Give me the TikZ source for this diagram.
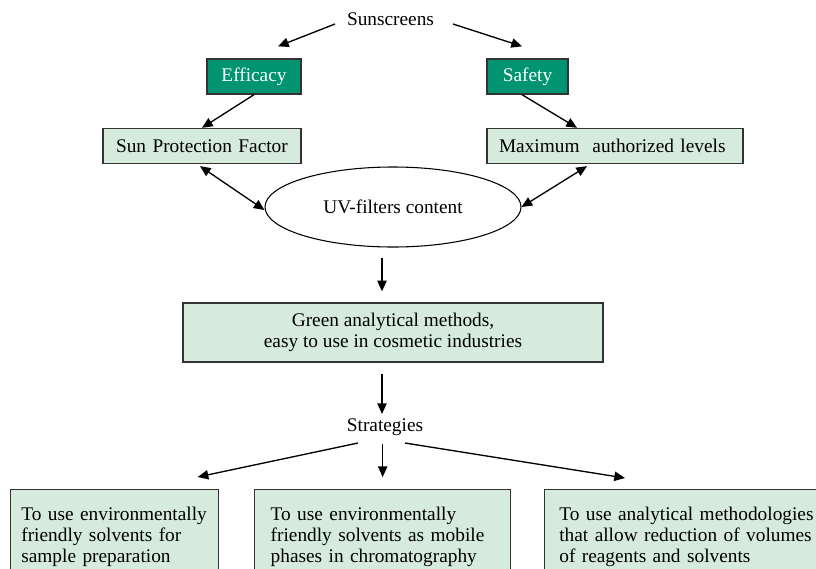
\documentclass[tikz,border=0pt]{standalone}
\usepackage{fontspec}
\setmainfont{Liberation Serif}
\usepackage{xcolor}
\usepackage{tikz}
\usetikzlibrary{arrows.meta,shapes.geometric}

\definecolor{darkgreen}{RGB}{0,148,112}
\definecolor{palegreen}{RGB}{214,235,222}

\begin{document}
\begin{tikzpicture}[
  x=0.75pt, y=-0.75pt,
  every node/.style={font=\fontsize{14.5}{15.75}\selectfont},
  label/.style={inner sep=2pt},
  keybox/.style={draw=black!80, line width=1pt, fill=darkgreen, text=white, align=center, inner sep=0pt},
  infobox/.style={draw=black!80, line width=1pt, fill=palegreen, align=left, inner ysep=0pt, minimum height=26.25pt},
  stratbox/.style={draw=black!80, line width=1pt, fill=palegreen, align=left, anchor=north west, inner ysep=13pt},
  ->, >={Triangle[length=8pt,width=7pt]}, line width=1pt
]
  \useasboundingbox (0,0) rectangle (816,568);
  \clip (0,0) rectangle (816,568);

  % top part
  \node[label] (sun) at (390.5,19) {Sunscreens};
  \node[keybox, minimum width=70.5pt, minimum height=26.25pt] (eff) at (254,76.5) {Efficacy};
  \node[keybox, minimum width=60.75pt, minimum height=26.25pt] (saf) at (527.5,76.5) {Safety};
  \node[infobox, text width=129pt, inner xsep=9.75pt] (spf) at (202,146) {Sun Protection Factor};
  \node[infobox, text width=174pt, inner xsep=9pt] (max) at (615,146) {Maximum\ \ authorized levels};
  \node[draw, ellipse, line width=0.8pt, minimum width=192pt, minimum height=60pt, inner sep=0pt] (uv) at (393,207) {UV-filters content};
  \draw[->] ([shift={(-55.5,5)}]sun.center) -- ([shift={(24,-12)}]eff.north);
  \draw[->] ([shift={(62.5,5)}]sun.center) -- ([shift={(-5.5,-12)}]saf.north);
  \draw[->] (eff.south) -- (spf.north);
  \draw[->] ([shift={(-5.5,0)}]saf.south) -- ([shift={(-38,0)}]max.north);
  \draw[<->] ([shift={(-2,2)}]spf.south) -- ([shift={(0,3)}]uv.west);
  \draw[<->] ([shift={(-28,2)}]max.south) -- ([shift={(0,0)}]uv.east);

  % middle part
  \node[draw=black!80, line width=1pt, fill=palegreen, align=center, minimum width=315pt, minimum height=44.25pt, inner sep=0pt] (green) at (393,332.5) {Green analytical methods,\\ easy to use in cosmetic industries};
  \node[label] (strat) at (385,427) {Strategies};
  \draw[->] ([shift={(-11,10)}]uv.south) -- ([shift={(-11,-11)}]green.north);
  \draw[->] ([shift={(-11,11)}]green.south) -- ([shift={(-3,-13)}]strat.center);

  % strategies
  \node[stratbox, text width=140pt, inner xsep=8pt] (s1) at (10,489) {To use environmentally\\ friendly solvents for\\ sample preparation};
  \node[stratbox, text width=168pt, inner xsep=12pt] (s2) at (254,489) {To use environmentally\\ friendly solvents as mobile\\ phases in chromatography};
  \node[stratbox, text width=208pt, inner xsep=11pt] (s3) at (544,489) {To use analytical methodologies\\ that allow reduction of volumes\\ of reagents and solvents};
  \draw[->] ([shift={(-27,16)}]strat.center) -- ([shift={(83,-12)}]s1.north);
  \draw[->] ([shift={(0,-45)}]s2.north) -- ([shift={(0,-12)}]s2.north);
  \draw[->] ([shift={(20,16)}]strat.center) -- ([shift={(81,-11)}]s3.north west);
\end{tikzpicture}
\end{document}
